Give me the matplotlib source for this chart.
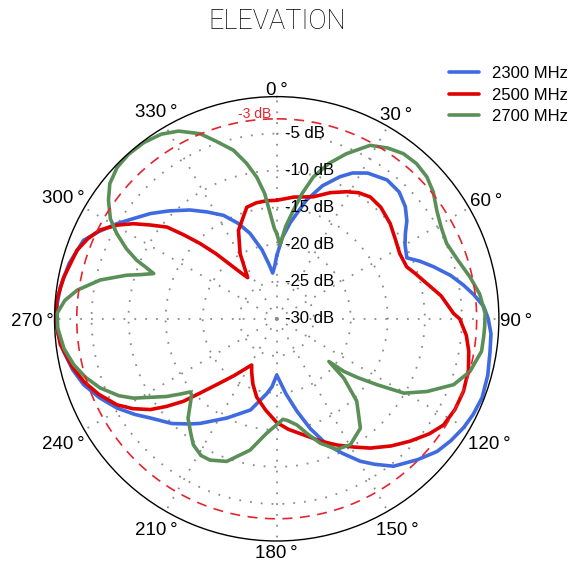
import numpy as np
import matplotlib
matplotlib.use('Agg')
import matplotlib.pyplot as plt
from matplotlib.transforms import offset_copy

plt.rcParams['font.family'] = ['Liberation Sans', 'DejaVu Sans']

# 2300 MHz (angle deg clockwise from top, gain dB)
ang_2300 = [0, 4, 8, 14, 19, 24, 27.5, 32, 38.5, 44, 48.9, 53, 56.4, 60, 64.9, 68, 71.6, 76,
            79.7, 83, 86.6, 90, 94, 98.7, 105, 111, 116, 120.2, 125, 129.6, 135, 141.6, 146,
            149.6, 154, 158.2, 163, 167.6, 173, 177, 180, 184, 187.6, 196, 206.7, 216.2,
            219.5, 225, 231.9, 236, 240.8, 246, 251.2, 256, 261.3, 266, 270, 274, 278.4, 285,
            292.1, 296, 300.8, 305, 309.8, 315, 321.4, 327, 332.8, 338, 342.6, 348, 352, 355,
            358, 360]
db_2300 = [-21.5, -19.0, -16.9, -13.5, -11.0, -9.0, -7.8, -6.8, -6.05, -6.2, -6.96, -8.0, -9.14,
           -10.0, -10.6, -9.2, -7.7, -5.8, -4.4, -3.2, -2.0, -1.44, -1.0, -0.86, -0.5, -0.3,
           -0.5, -0.8, -1.3, -1.9, -3.1, -4.6, -6.3, -7.7, -9.8, -11.7, -14.5, -17.2, -19.8,
           -21.5, -22.4, -20.8, -19.8, -17.2, -15.0, -12.5, -11.6, -10.0, -8.3, -6.9, -5.3,
           -3.8, -2.45, -1.6, -0.9, -0.4, -0.25, -0.3, -0.47, -1.0, -1.84, -3.2, -4.9, -6.4,
           -7.8, -9.4, -11.2, -12.8, -14.3, -16.1, -17.9, -20.5, -22.6, -23.8, -22.8, -21.5]

# 2500 MHz
ang_2500 = [0, 8, 16.7, 23, 28.9, 33, 37.5, 43, 50, 56, 62.1, 68.2, 72, 76.7, 82, 88.3, 90, 95,
            99.6, 105, 111.2, 117, 122.5, 127, 132.5, 138, 144.1, 149, 154.4, 160, 166.9, 174,
            180, 187, 194.4, 200, 205, 208.5, 216.9, 222.3, 225.9, 228.5, 231.5, 234.3, 238,
            241.7, 247, 252, 257, 263.2, 270, 274.9, 281, 289, 293, 296.7, 300.4, 303.6, 306.5,
            309.9, 312, 314.5, 317, 320.1, 322.5, 324.8, 330.7, 336.6, 341.9, 345, 350, 355, 360]
db_2500 = [-14.0, -13.4, -12.8, -11.5, -10.4, -9.7, -9.26, -9.4, -10.0, -10.7, -11.2, -11.1,
           -10.3, -9.2, -7.6, -6.1, -5.3, -4.3, -3.7, -3.2, -2.95, -3.0, -3.3, -4.2, -5.55, -6.9,
           -8.45, -9.8, -11.1, -12.4, -13.9, -15.0, -16.0, -17.6, -19.1, -20.6, -22.0, -22.9,
           -20.4, -18.0, -15.6, -13.2, -11.0, -9.0, -7.1, -5.5, -3.9, -2.6, -1.6, -0.58, -0.1,
           -0.2, -0.7, -1.5, -2.3, -3.3, -5.0, -6.8, -8.7, -10.7, -13.0, -15.5, -18.0, -20.9,
           -22.3, -23.2, -19.9, -17.0, -15.5, -14.4, -14.1, -14.0, -14.0]

# 2700 MHz
ang_2700 = [0, 2.6, 5.5, 8.7, 11.5, 14.5, 18.5, 22.9, 28.3, 33, 37.5, 42, 46.6, 51, 55.9, 61,
            66.1, 72, 77.8, 83, 88.5, 92, 95, 99, 105.2, 110.4, 115.8, 120.3, 123.3, 126, 128.1,
            129.3, 131.5, 135.8, 142.6, 149.7, 155.3, 160.7, 165, 169.2, 174, 176.5, 180, 185,
            191.5, 199.3, 205.3, 209, 213.5, 217, 221.7, 228.2, 229.8, 232, 234.8, 241, 244,
            248.6, 253, 257.3, 262, 267.6, 271.5, 275, 278.2, 282.4, 286.2, 288, 290.2, 291.5,
            292.7, 295, 298.1, 301, 305.2, 309, 313.5, 318, 323, 328, 332.4, 337.5, 341, 345.6,
            349, 352, 354.5, 356.4, 358.5, 360]
db_2700 = [-18.5, -20.0, -17.5, -15.2, -12.7, -10.2, -7.9, -5.8, -3.4, -2.5, -1.9, -1.8, -2.1,
           -2.8, -3.9, -4.6, -4.9, -4.3, -3.3, -2.4, -1.85, -1.9, -1.95, -2.0, -2.95, -4.5,
           -7.45, -10.1, -13.8, -16.5, -18.5, -20.9, -17.9, -14.5, -11.4, -10.3, -10.6, -12.2,
           -13.9, -15.4, -16.2, -16.4, -15.7, -14.5, -11.9, -9.6, -8.9, -8.9, -9.6, -10.7, -12.0,
           -14.6, -14.7, -13.5, -11.8, -7.9, -6.3, -4.4, -3.0, -1.9, -1.0, -0.4, -0.35, -1.3,
           -2.8, -5.6, -8.9, -10.7, -12.3, -11.0, -9.5, -7.6, -5.5, -3.8, -2.2, -1.0, -0.3, -0.1,
           -0.2, -0.6, -1.4, -2.95, -4.6, -6.5, -8.6, -10.7, -13.0, -15.7, -17.8, -18.5]

series = [('2300 MHz', ang_2300, db_2300, '#3f6ae0'),
          ('2500 MHz', ang_2500, db_2500, '#e00000'),
          ('2700 MHz', ang_2700, db_2700, '#5b8f58')]

rings = [-30, -25, -20, -15, -10, -5]
spokes = [0, 30, 60, 90, 120, 150, 180, 210, 240, 270, 300, 330]

fig = plt.figure(figsize=(5.75, 5.65), dpi=100)
ax = fig.add_axes([0.0948, 0.0425, 0.7729, 0.7865], projection='polar')
ax.set_theta_zero_location('N')
ax.set_theta_direction(-1)
ax.set_ylim(-30, 0)

for name, a, d, c in series:
    ax.plot(np.deg2rad(a), d, color=c, lw=2.6, label=name,
            solid_capstyle='round', solid_joinstyle='round')

# -3 dB reference circle
th = np.linspace(0, 2 * np.pi, 400)
ax.plot(th, np.full_like(th, -3.0), color='#e3262e', lw=1.2, ls=(0, (6, 4.5)))
ax.text(np.deg2rad(-6.3), -2.2, '-3 dB', color='#e3262e', fontsize=10, ha='center', va='center')

ax.set_xticks(np.deg2rad(spokes))
ax.set_xticklabels([])
ax.set_yticks(rings)
ax.set_yticklabels([])
ax.tick_params(axis='x', direction='in', length=7, width=1)
ax.grid(True, color='#8c8c8c', ls=(0, (1, 5)), lw=1.3)
ax.spines['polar'].set_linewidth(1.0)

tr = offset_copy(ax.transData, fig=fig, x=8, y=0, units='dots')
for v in rings:
    ax.text(0, v, f'{v} dB', transform=tr, fontsize=12, ha='left', va='center')

# angle labels: nearest edge of the text just outside the circle
renderer = fig.canvas.get_renderer()
for s in spokes:
    a = np.deg2rad(s)
    t = ax.text(a, 0, f'{s}\u2009°', fontsize=13.5, ha='center', va='center')
    bb = t.get_window_extent(renderer)
    d = 1.0 + 0.5 * abs(bb.width * np.sin(a)) + 0.5 * abs(bb.height * np.cos(a))
    t.set_transform(offset_copy(ax.transData, fig=fig, x=d * np.sin(a),
                                y=d * np.cos(a) - 3, units='dots'))

fig.text(0.4826, 0.962, 'ELEVATION', fontsize=19.5, family='Roboto', weight='light',
         ha='center', va='center')
fig.legend(loc='upper right', bbox_to_anchor=(1.013, 0.91), frameon=False, fontsize=12,
           handlelength=1.8, labelspacing=0.4, handletextpad=0.75)

fig.savefig('out.png', dpi=100)
